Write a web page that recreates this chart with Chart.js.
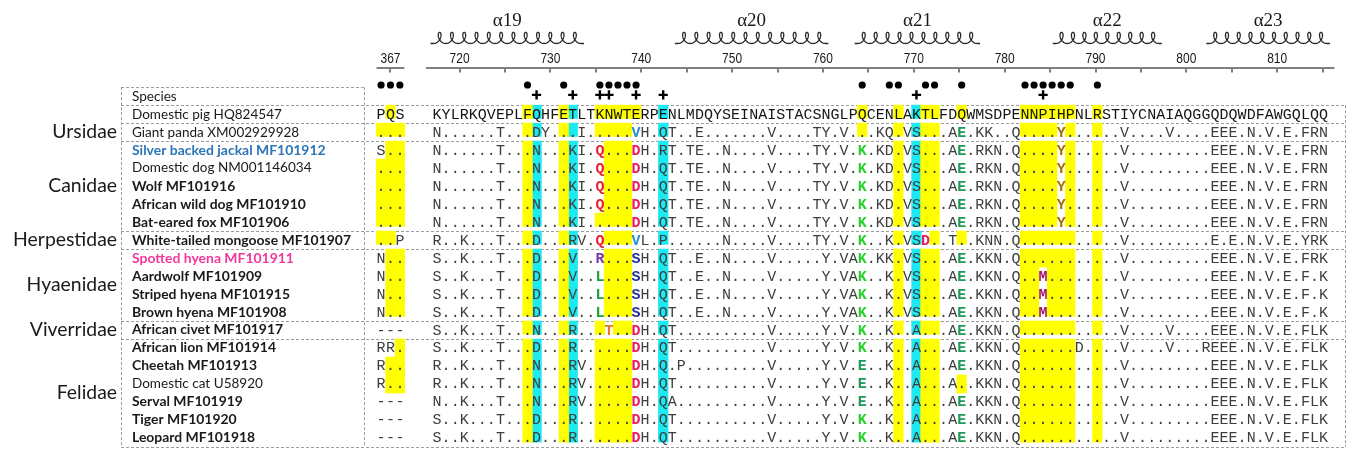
<!DOCTYPE html>
<html lang="en">
<head>
<meta charset="utf-8">
<title>Alignment</title>
<script src="https://cdn.jsdelivr.net/npm/chart.js"></script>
<style>
  html, body { margin: 0; padding: 0; background: #ffffff; }
  canvas { display: block; }
</style>
</head>
<body>
<canvas id="alignmentChart" width="1351" height="454"></canvas>
<script>
// ---- data ----

const headerLabel = 'Species';

const speciesNames = [
    'Domestic pig HQ824547',
    'Giant panda XM002929928',
    'Silver backed jackal MF101912',
    'Domestic dog NM001146034',
    'Wolf MF101916',
    'African wild dog MF101910',
    'Bat-eared fox MF101906',
    'White-tailed mongoose MF101907',
    'Spotted hyena MF101911',
    'Aardwolf MF101909',
    'Striped hyena MF101915',
    'Brown hyena MF101908',
    'African civet MF101917',
    'African lion MF101914',
    'Cheetah MF101913',
    'Domestic cat U58920',
    'Serval MF101919',
    'Tiger MF101920',
    'Leopard MF101918'
];
const nameBold = [false, false, true, false, true, true, true, true, true, true,
    true, true, true, true, true, false, true, true, true];
const nameColor = ['#1a1a1a', '#1a1a1a', '#2e75b6', '#1a1a1a', '#1a1a1a', '#1a1a1a', '#1a1a1a',
    '#1a1a1a', '#f2389b', '#1a1a1a', '#1a1a1a', '#1a1a1a', '#1a1a1a', '#1a1a1a', '#1a1a1a',
    '#1a1a1a', '#1a1a1a', '#1a1a1a', '#1a1a1a'];

// families, with first / last table row (row 1 = pig)
const familyNames = ['Ursidae', 'Canidae', 'Herpestidae', 'Hyaenidae', 'Viverridae', 'Felidae'];
const familyFirstRow = [2, 3, 8, 9, 13, 14];
const familyLastRow = [2, 7, 8, 12, 13, 19];

// residues 367-369
const seq367 = ['PQS', '...', 'S..', '...', '...', '...', '...', '..P', 'N..', 'N..', 'N..', 'N..',
    '---', 'RR.', 'R..', 'R..', '---', '---', '---'];

// residues 717-815 (three pieces: 717-749, 750-781, 782-815)
const seqMain = [
    'KYLRKQVEPLFQHFETLTKNWTERPENLMDQYSEINAISTACSNGLPQCENLAKTLFDQWMSDPENNPIHPNLRSTIYCNAIAQGGQDQWDFAWGQLQQ',
    'N......T...DY...I.....VH.QT..E...' + '....V....TY.V...KQ.VS...AE.KK..Q' + '....Y......V....V....EEE.N.V.E.FRN',
    'N......T...N...KI.Q...DH.RT.TE..N' + '....V....TY.V.K.KD.VS...AE.RKN.Q' + '....Y......V.........EEE.N.V.E.FRN',
    'N......T...N...KI.Q...DH.QT.TE..N' + '....V....TY.V.K.KD.VS...AE.RKN.Q' + '....Y......V.........EEE.N.V.E.FRN',
    'N......T...N...KI.Q...DH.QT.TE..N' + '....V....TY.V.K.KD.VS...AE.RKN.Q' + '....Y......V.........EEE.N.V.E.FRN',
    'N......T...N...KI.Q...DH.QT.TE..N' + '....V....TY.V.K.KD.VS...AE.RKN.Q' + '....Y......V.........EEE.N.V.E.FRN',
    'N......T...N...KI.....DH.QT.TE..N' + '....V....TY.V.K.KD.VS...AE.RKN.Q' + '....Y......V.........EEE.N.V.E.FRN',
    'R..K...T...D...RV.Q...VL.P......N' + '....V....TY.V.K..K.VSD..T..KNN.Q' + '...........V.........E.E.N.V.E.YRK',
    'S..K...T...D...V..R...SH.QT..E..N' + '....V.....Y.VAK.KK.VS...AE.KKN.Q' + '...........V.........EEE.N.V.E.FRK',
    'S..K...T...D...V..L...SH.QT..E..N' + '....V.....Y.VAK..K.VS...AE.KKN.Q' + '..M........V.........EEE.N.V.E.F.K',
    'S..K...T...D...V..L...SH.QT..E..N' + '....V.....Y.VAK..K.VS...AE.KKN.Q' + '..M........V.........EEE.N.V.E.F.K',
    'S..K...T...D...V..L...SH.QT..E..N' + '....V.....Y.VAK..K.VS...AE.KKN.Q' + '..M........V.........EEE.N.V.E.F.K',
    'S..K...T...N...R...T..DH.QT......' + '....V.....Y.V.K..K..A...AE.KKN.Q' + '...........V....V....EEE.N.V.E.FLK',
    'S..K...T...D...R......DH.QT......' + '....V.....Y.V.K..K..A...AE.KKN.Q' + '......D....V....V...REEE.N.V.E.FLK',
    'R..K...T...N...RV.....DH.Q.P.....' + '....V.....Y.V.E..K..A...AE.KKN.Q' + '...........V.........EEE.N.V.E.FLK',
    'R..K...T...N...RV.....DH.QT......' + '....V.....Y.V.E..K..A...A..KKN.Q' + '...........V.........EEE.N.V.E.FLK',
    'N..K...T...N...RV.....DH.QA......' + '....V.....Y.V.E..K..A...AE.KKN.Q' + '...........V.........EEE.N.V.E.FLK',
    'S..K...T...D...R......DH.QT......' + '....V.....Y.V.K..K..A...AE.KKN.Q' + '...........V.........EEE.N.V.E.FLK',
    'S..K...T...D...R......DH.QT......' + '....V.....Y.V.K..K..A...AE.KKN.Q' + '...........V.........EEE.N.V.E.FLK'
];

// highlighted columns (0 = residue 717), dots and crosses above them
const pigYellowCols = [10, 14, 18, 19, 20, 21, 22, 47, 51, 54, 55, 58, 65, 66, 67, 68, 69, 70, 73];
const pigYellow367 = [1];
const cyanCols = [11, 15, 25, 53];
const dotCols = [10, 14, 18, 19, 20, 21, 22, 47, 50, 51, 54, 55, 58, 65, 66, 67, 68, 69, 70, 73];
const dotCols367 = [0, 1, 2];
const plusCols = [11, 15, 18, 19, 22, 25, 53, 67];

// residue number axis
const axisLabels = [720, 730, 740, 750, 760, 770, 780, 790, 800, 810];
const axisTicks = [720, 725, 730, 735, 740, 745, 750, 755, 760, 765, 770, 775, 780, 785, 790, 795, 800, 805, 810, 815];
const axisFrom = 716.3;
const axisTo = 816.3;
const label367 = '367';

// helices
const helixNames = ['α19', 'α20', 'α21', 'α22', 'α23'];
const helixFrom = [716.8, 743.7, 763.5, 785.3, 802.2];
const helixTo = [733.7, 760.6, 777.3, 797.3, 815.8];
const helixLoops = [12, 12, 10, 9, 10];

const residueColors = {
    Q: '#e8222a', R: '#7a3aa8', L: '#1f9e3c', T: '#e8782a', V: '#2b8ed6', D: '#ec1c62',
    S: '#23309c', K: '#2bd12b', E: '#1d9a55', M: '#a3186c', Y: '#a86e10'
};

// ---- layout (pixels) ----
const ROW0_PX = 92;       // centre of the "Species" row
const ROW_PX = 18.56;     // row pitch
const SEQ_LEFT_PX = 430;  // left edge of residue 717
const COL_PX = 9.14;      // residue pitch
const NUM_720_PX = 457.3; // tick 720
const NUM_PX = 9.18;      // axis pitch per residue number
const NAME_LEFT = 121;
const BLOCK_LEFT = 363.5;
const TABLE_RIGHT = 1345;
const AXIS_Y = 68;
const DOT_ROW = -0.62;
const PLUS_ROW = -0.07;

seqMain.forEach((s, r) => {
    if (s.length !== 99) console.warn('row', r, 'has', s.length, 'residues');
});

// table cells: rows that share one shaded block
const groups = [[1, 1], [2, 2], [3, 7], [8, 8], [9, 12], [13, 13], [14, 19]];

const blockX = (i) => -5.69 + 1.04 * i;
const mainX = (i) => i + 0.5;

function isYellowMain(k, i) {
    if (k === 1) return pigYellowCols.includes(i);
    return pigYellowCols.includes(i) && seqMain[k - 1][i] === '.';
}
function isYellow367(k, i) {
    if (k === 1) return pigYellow367.includes(i);
    return seq367[k - 1][i] === '.';
}

// consecutive rows inside a table cell become one floating bar
function buildRuns(test, cols, toX) {
    const out = [];
    cols.forEach((i) => {
        groups.forEach(([g0, g1]) => {
            let start = null;
            for (let k = g0; k <= g1 + 1; k++) {
                const on = k <= g1 && test(k, i);
                if (on && start === null) start = k;
                if (!on && start !== null) {
                    const end = k - 1;
                    out.push({ x: toX(i), y: [start - 0.5, end === g1 ? end + 0.24 : end + 0.5] });
                    start = null;
                }
            }
        });
    });
    return out;
}

const yellowRuns = buildRuns(isYellowMain, pigYellowCols, mainX)
    .concat(buildRuns(isYellow367, [0, 1, 2], blockX));
const cyanRuns = buildRuns(() => true, cyanCols, mainX);

function fitFont(ctx, text, weight, family, width) {
    ctx.font = `${weight} 20px ${family}`;
    return 20 * width / ctx.measureText(text).width;
}

function hline(ctx, x1, x2, yy) {
    const py = Math.round(yy) + 0.5;
    ctx.beginPath();
    ctx.moveTo(x1, py);
    ctx.lineTo(x2, py);
    ctx.stroke();
}
function vline(ctx, xx, y1, y2) {
    const px = Math.round(xx) + 0.5;
    ctx.beginPath();
    ctx.moveTo(px, y1);
    ctx.lineTo(px, y2);
    ctx.stroke();
}

// coil drawn as a looped trochoid between two pixels
function drawHelix(ctx, x1, x2, loops, yBase) {
    const lead = 3;
    const start = x1 + lead;
    const span = x2 - x1 - 2 * lead;
    const r = span / (loops * 2 * Math.PI);
    const dx = 4.0;
    const amp = 5.6;
    const yc = yBase - amp;
    const steps = loops * 48;
    ctx.beginPath();
    ctx.moveTo(x1, yBase);
    for (let s = 0; s <= steps; s++) {
        const t = -Math.PI + s * (loops * 2 * Math.PI / steps);
        ctx.lineTo(start + r * (t + Math.PI) - dx * Math.sin(t), yc - amp * Math.cos(t));
    }
    ctx.lineTo(x2, yBase);
    ctx.stroke();
}

const alignmentPlugin = {
    id: 'alignment',
    beforeDatasetsDraw(chart) {
        const { ctx, scales: { y } } = chart;
        const top = y.getPixelForValue(-0.5);
        const bottom = Math.min(y.getPixelForValue(speciesNames.length + 0.5), chart.height - 1);
        ctx.save();
        ctx.strokeStyle = '#9c9c9c';
        ctx.lineWidth = 1;
        ctx.setLineDash([3, 2]);
        hline(ctx, NAME_LEFT, BLOCK_LEFT, top);
        groups.forEach(([g0]) => hline(ctx, NAME_LEFT, TABLE_RIGHT, y.getPixelForValue(g0 - 0.5)));
        hline(ctx, NAME_LEFT, TABLE_RIGHT, bottom);
        vline(ctx, NAME_LEFT, top, bottom);
        vline(ctx, BLOCK_LEFT, top, bottom);
        vline(ctx, TABLE_RIGHT, y.getPixelForValue(0.5), bottom);
        ctx.restore();
    },
    afterDatasetsDraw(chart) {
        const { ctx, scales: { x, y, xnum } } = chart;
        ctx.save();

        // species column
        const regSize = fitFont(ctx, speciesNames[0], 'normal', 'Lato', 150);
        const boldSize = fitFont(ctx, speciesNames[5], 'bold', 'Lato', 174);
        ctx.textAlign = 'left';
        ctx.textBaseline = 'middle';
        ctx.fillStyle = '#1a1a1a';
        ctx.font = `normal ${regSize}px Lato`;
        ctx.fillText(headerLabel, 132, y.getPixelForValue(0));
        speciesNames.forEach((name, r) => {
            ctx.font = (nameBold[r] ? `bold ${boldSize}px` : `normal ${regSize}px`) + ' Lato';
            ctx.fillStyle = nameColor[r];
            ctx.fillText(name, 132, y.getPixelForValue(r + 1));
        });

        // family labels
        const famSize = fitFont(ctx, 'Herpestidae', 'normal', 'Lato', 104);
        ctx.font = `normal ${famSize}px Lato`;
        ctx.textAlign = 'right';
        ctx.fillStyle = '#1a1a1a';
        familyNames.forEach((name, f) => {
            const mid = (familyFirstRow[f] + familyLastRow[f]) / 2;
            ctx.fillText(name, 117, y.getPixelForValue(mid));
        });

        // residues
        ctx.textAlign = 'center';
        ctx.textBaseline = 'alphabetic';
        seqMain.forEach((s, r) => {
            const k = r + 1;
            const py = y.getPixelForValue(k) + 4.5;
            for (let i = 0; i < s.length; i++) {
                const ch = s[i];
                const special = k > 1 && ch !== '.' && pigYellowCols.includes(i);
                ctx.font = (special ? 'bold ' : '') + '15px "Liberation Mono"';
                ctx.fillStyle = special ? (residueColors[ch] || '#000') : (k === 1 ? '#151515' : '#3d3d3d');
                ctx.fillText(ch, x.getPixelForValue(mainX(i)), py);
            }
        });
        ctx.font = '15px "Liberation Mono"';
        seq367.forEach((s, r) => {
            const k = r + 1;
            ctx.fillStyle = k === 1 ? '#151515' : '#3d3d3d';
            for (let i = 0; i < s.length; i++) {
                ctx.fillText(s[i], x.getPixelForValue(blockX(i)), y.getPixelForValue(k) + 4.5);
            }
        });

        // residue number axis
        ctx.strokeStyle = '#808080';
        ctx.lineWidth = 2;
        ctx.beginPath();
        ctx.moveTo(xnum.getPixelForValue(axisFrom), AXIS_Y);
        ctx.lineTo(xnum.getPixelForValue(axisTo), AXIS_Y);
        ctx.stroke();
        axisTicks.forEach((n) => {
            const px = Math.round(xnum.getPixelForValue(n));
            ctx.beginPath();
            ctx.moveTo(px, AXIS_Y);
            ctx.lineTo(px, AXIS_Y + 4.5);
            ctx.stroke();
        });
        const b0 = x.getPixelForValue(blockX(0) - 0.5);
        const b1 = x.getPixelForValue(blockX(2) + 0.5);
        const bc = Math.round(x.getPixelForValue(blockX(1)));
        ctx.beginPath();
        ctx.moveTo(b0, AXIS_Y);
        ctx.lineTo(b1, AXIS_Y);
        ctx.moveTo(bc, AXIS_Y);
        ctx.lineTo(bc, AXIS_Y + 4.5);
        ctx.stroke();

        ctx.fillStyle = '#1a1a1a';
        ctx.font = '15px "Liberation Sans"';
        const numLabel = (text, px) => {
            ctx.save();
            ctx.translate(px, 63);
            ctx.scale(0.8, 1);
            ctx.fillText(text, 0, 0);
            ctx.restore();
        };
        axisLabels.forEach((n) => numLabel(String(n), xnum.getPixelForValue(n)));
        numLabel(label367, x.getPixelForValue(blockX(1)));

        // helices
        ctx.strokeStyle = '#2a2a2a';
        ctx.lineWidth = 1.3;
        ctx.font = '19px "Liberation Serif"';
        ctx.fillStyle = '#1a1a1a';
        helixNames.forEach((name, h) => {
            const p0 = xnum.getPixelForValue(helixFrom[h]);
            const p1 = xnum.getPixelForValue(helixTo[h]);
            drawHelix(ctx, p0, p1, helixLoops[h], 43.5);
            ctx.fillText(name, (p0 + p1) / 2, 25.5);
        });

        ctx.restore();
    }
};

const ctx = document.getElementById('alignmentChart').getContext('2d');
new Chart(ctx, {
    type: 'bar',
    data: {
        datasets: [
            {
                label: 'dots',
                type: 'scatter',
                data: dotCols.map((c) => ({ x: mainX(c), y: DOT_ROW }))
                    .concat(dotCols367.map((c) => ({ x: blockX(c), y: DOT_ROW }))),
                pointStyle: 'circle',
                pointRadius: 3.6,
                pointBackgroundColor: '#000000',
                pointBorderColor: '#000000',
                pointBorderWidth: 0
            },
            {
                label: 'crosses',
                type: 'scatter',
                data: plusCols.map((c) => ({ x: mainX(c), y: PLUS_ROW })),
                pointStyle: 'cross',
                pointRadius: 4.6,
                pointBorderColor: '#000000',
                pointBorderWidth: 2.4
            },
            {
                label: 'yellow',
                data: yellowRuns,
                backgroundColor: '#ffff00',
                barThickness: 9.6,
                grouped: false
            },
            {
                label: 'cyan',
                data: cyanRuns,
                backgroundColor: '#1de9f2',
                barThickness: 9.6,
                grouped: false
            }
        ]
    },
    options: {
        responsive: false,
        maintainAspectRatio: false,
        devicePixelRatio: 1,
        animation: false,
        events: [],
        layout: { padding: 0 },
        plugins: { legend: { display: false }, tooltip: { enabled: false } },
        scales: {
            x: {
                type: 'linear',
                display: false,
                offset: false,
                bounds: 'data',
                min: -SEQ_LEFT_PX / COL_PX,
                max: -SEQ_LEFT_PX / COL_PX + 1351 / COL_PX
            },
            xnum: {
                type: 'linear',
                axis: 'x',
                display: false,
                offset: false,
                bounds: 'data',
                min: 720 - NUM_720_PX / NUM_PX,
                max: 720 - NUM_720_PX / NUM_PX + 1351 / NUM_PX
            },
            y: {
                type: 'linear',
                display: false,
                reverse: true,
                bounds: 'data',
                min: -ROW0_PX / ROW_PX,
                max: -ROW0_PX / ROW_PX + 454 / ROW_PX
            }
        }
    },
    plugins: [alignmentPlugin]
});
</script>
</body>
</html>
